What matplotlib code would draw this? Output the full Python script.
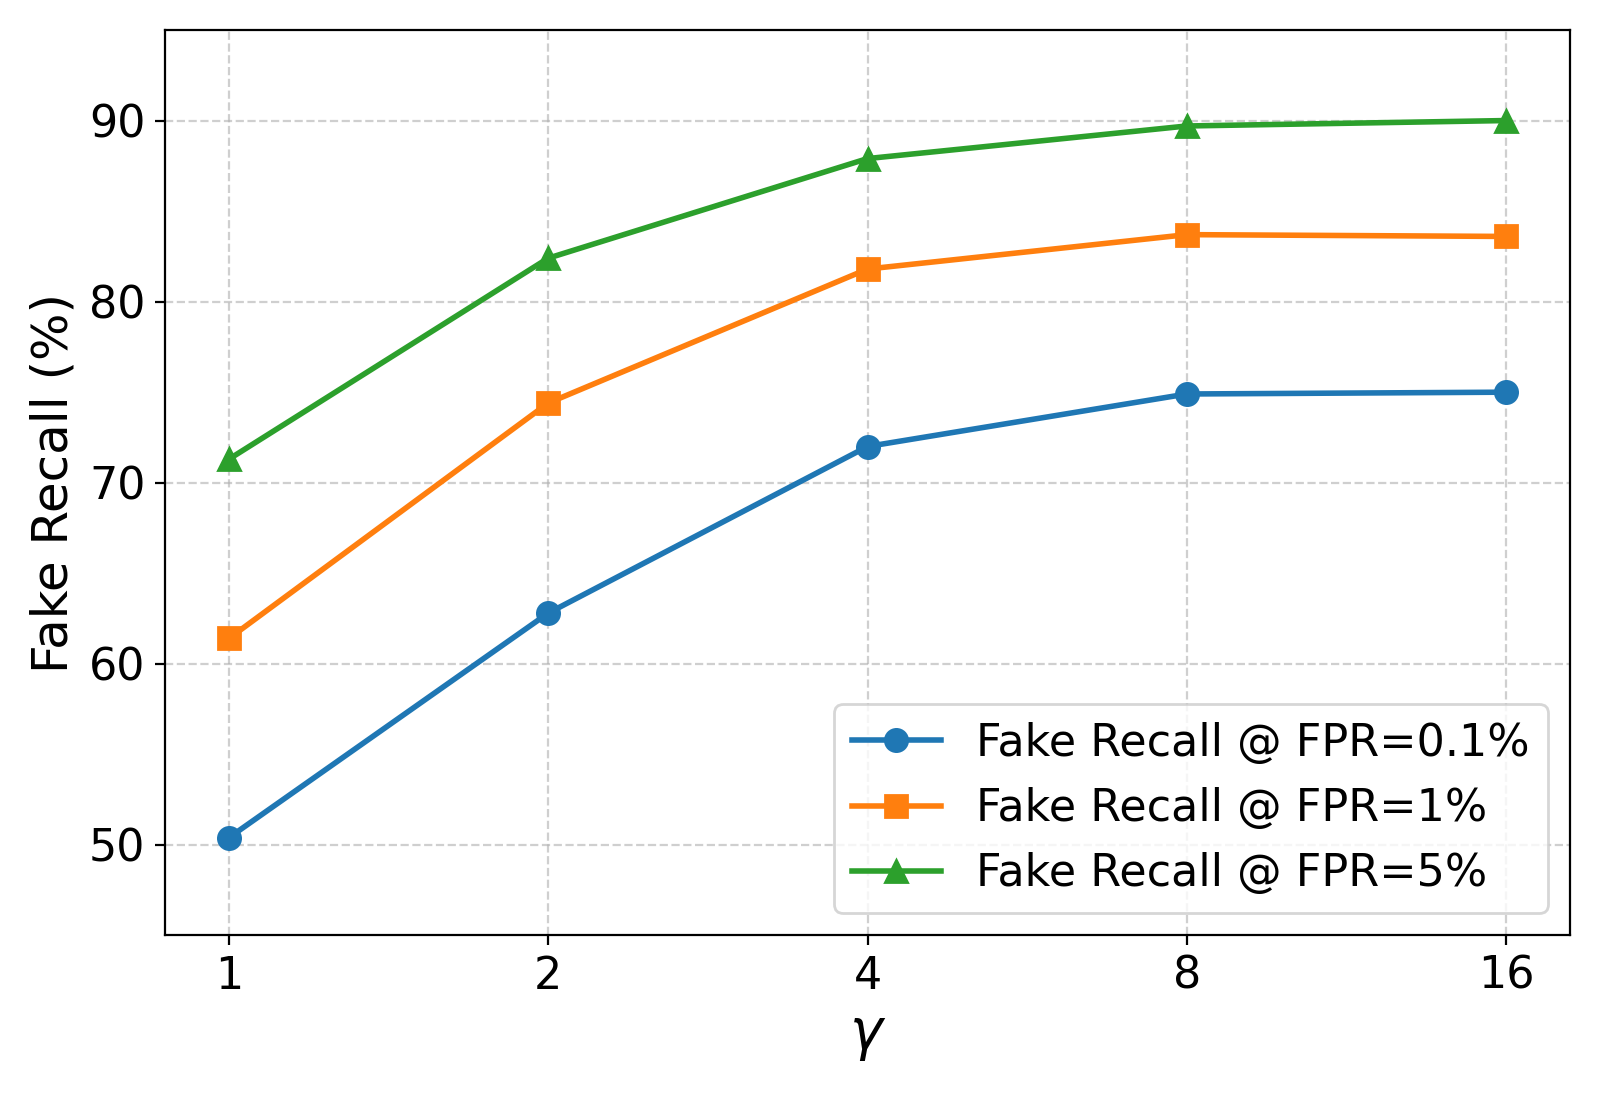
import matplotlib.pyplot as plt

gammas = ["1", "2", "4", "8", "16"]
recall_01 = [50.4, 62.8, 72.0, 74.9, 75.0]
recall_1 = [61.4, 74.4, 81.8, 83.7, 83.6]
recall_5 = [71.3, 82.4, 87.9, 89.7, 90.0]

fig, ax = plt.subplots(figsize=(8, 5.465), dpi=200)
x = range(len(gammas))
ax.plot(x, recall_01, marker='o', color='#1f77b4', lw=2, ms=8, label='Fake Recall @ FPR=0.1%')
ax.plot(x, recall_1, marker='s', color='#ff7f0e', lw=2, ms=8, label='Fake Recall @ FPR=1%')
ax.plot(x, recall_5, marker='^', color='#2ca02c', lw=2, ms=8, label='Fake Recall @ FPR=5%')

ax.set_xticks(list(x))
ax.set_xticklabels(gammas)
ax.set_xlim(-0.2, 4.2)
ax.set_ylim(45, 95)
ax.set_yticks([50, 60, 70, 80, 90])
ax.tick_params(labelsize=16)
ax.grid(True, linestyle='--', alpha=0.6)
ax.set_xlabel(r'$\gamma$', fontsize=20)
ax.set_ylabel('Fake Recall (%)', fontsize=18)
ax.legend(loc='lower right', fontsize=16)

fig.tight_layout()
fig.savefig("out.png")
